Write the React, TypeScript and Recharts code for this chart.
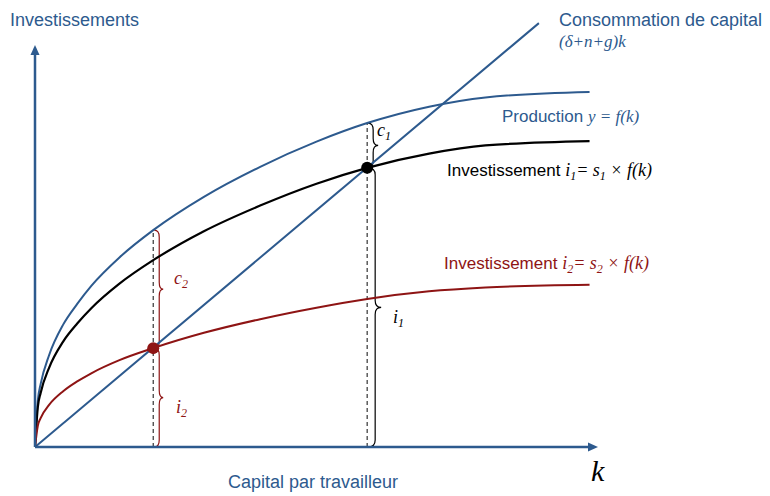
import React from "react";
import {
  ComposedChart,
  Line,
  XAxis,
  YAxis,
  ReferenceLine,
  ReferenceDot,
} from "recharts";

// values (k on a 0..10 scale, output on a 0..8 scale)
const kGrid = [0, 0.05, 0.1, 0.25, 0.5, 0.75, 1, 1.5, 2.1, 3, 4, 5, 5.9, 7, 8, 9.85];
const production = [0, 0.85, 1.15, 1.68, 2.24, 2.62, 2.95, 3.47, 3.97, 4.58, 5.13, 5.59, 5.93, 6.23, 6.4, 6.5];
const investment1 = [0, 0.73, 0.99, 1.45, 1.93, 2.26, 2.54, 2.99, 3.42, 3.95, 4.42, 4.82, 5.11, 5.37, 5.52, 5.6];
const investment2 = [0, 0.39, 0.53, 0.77, 1.02, 1.2, 1.35, 1.59, 1.81, 2.09, 2.34, 2.55, 2.71, 2.85, 2.92, 2.97];
const breakEvenK = [0, 8.95];
const breakEvenY = [0, 7.76];

// steady states
const k1 = 5.9;
const i1 = 5.11;
const y1 = 5.93;
const k2 = 2.1;
const i2 = 1.81;
const y2 = 3.97;

const xMax = 10;
const yMax = 8;
const yAxisTop = 7.36;

const BLUE = "#2D5A8E";
const RED = "#8E1414";
const SANS = "'Liberation Sans', Arial, sans-serif";
const SERIF = "'Liberation Serif', 'Times New Roman', serif";

const curves = kGrid.map((k, i) => ({
  k,
  y: production[i],
  s1: investment1[i],
  s2: investment2[i],
}));
const breakEven = breakEvenK.map((k, i) => ({ k, d: breakEvenY[i] }));

function arrow(p: any) {
  const { x1, y1, x2, y2 } = p;
  const dx = x2 - x1;
  const dy = y2 - y1;
  const len = Math.hypot(dx, dy) || 1;
  const ux = dx / len;
  const uy = dy / len;
  const bx = x2 - ux * 10;
  const by = y2 - uy * 10;
  return (
    <g>
      <line x1={x1} y1={y1} x2={x2 - ux * 8} y2={y2 - uy * 8} stroke={BLUE} strokeWidth={2.5} />
      <polygon
        points={`${x2},${y2} ${bx - uy * 4.5},${by + ux * 4.5} ${bx + uy * 4.5},${by - ux * 4.5}`}
        fill={BLUE}
      />
    </g>
  );
}

function brace(color: string, a: number, v: number, t: number) {
  return (p: any) => {
    const x = p.x1;
    const top = Math.min(p.y1, p.y2);
    const bot = Math.max(p.y1, p.y2);
    const mid = (top + bot) / 2;
    const r = Math.min(7, (bot - top) / 4);
    const d = `M${x + a},${top} Q${x + v},${top} ${x + v},${top + r} L${x + v},${mid - r} Q${x + v},${mid} ${x + t},${mid} Q${x + v},${mid} ${x + v},${mid + r} L${x + v},${bot - r} Q${x + v},${bot} ${x + a},${bot}`;
    return <path d={d} fill="none" stroke={color} strokeWidth={1.2} />;
  };
}

function Sub({ children }: { children: React.ReactNode }) {
  return (
    <tspan fontSize={12} dy={4}>
      {children}
    </tspan>
  );
}

function Labels() {
  return (
    <svg
      width={770}
      height={496}
      style={{ position: "absolute", left: 0, top: 0, pointerEvents: "none" }}
    >
      <text x={10} y={26} fontFamily={SANS} fontSize={18} fill={BLUE}>
        Investissements
      </text>
      <text x={559} y={26} fontFamily={SANS} fontSize={18} fill={BLUE}>
        Consommation de capital
      </text>
      <text x={559} y={47} fontFamily={SERIF} fontStyle="italic" fontSize={17} fill={BLUE}>
        (δ+n+g)k
      </text>
      <text x={502} y={122} fontFamily={SANS} fontSize={17} fill={BLUE}>
        Production{" "}
        <tspan fontFamily={SERIF} fontStyle="italic" fontSize={17}>
          y = f(k)
        </tspan>
      </text>
      <text x={447} y={176} fontFamily={SANS} fontSize={17} fill="#000">
        Investissement{" "}
        <tspan fontFamily={SERIF} fontStyle="italic" fontSize={18}>
          i
          <Sub>1</Sub>
          <tspan dy={-4}>= s</tspan>
          <Sub>1</Sub>
          <tspan dy={-4}> × f(k)</tspan>
        </tspan>
      </text>
      <text x={444} y={269} fontFamily={SANS} fontSize={17} fill={RED}>
        Investissement{" "}
        <tspan fontFamily={SERIF} fontStyle="italic" fontSize={18}>
          i
          <Sub>2</Sub>
          <tspan dy={-4}>= s</tspan>
          <Sub>2</Sub>
          <tspan dy={-4}> × f(k)</tspan>
        </tspan>
      </text>
      <text x={377} y={136} fontFamily={SERIF} fontStyle="italic" fontSize={18} fill="#000">
        c<Sub>1</Sub>
      </text>
      <text x={174} y={284} fontFamily={SERIF} fontStyle="italic" fontSize={18} fill={RED}>
        c<Sub>2</Sub>
      </text>
      <text x={176} y={413} fontFamily={SERIF} fontStyle="italic" fontSize={18} fill={RED}>
        i<Sub>2</Sub>
      </text>
      <text x={393} y={323} fontFamily={SERIF} fontStyle="italic" fontSize={18} fill="#000">
        i<Sub>1</Sub>
      </text>
      <text x={228} y={488} fontFamily={SANS} fontSize={18} fill={BLUE}>
        Capital par travailleur
      </text>
      <text x={591} y={481} fontFamily={SERIF} fontStyle="italic" fontSize={30} fill="#000">
        k
      </text>
    </svg>
  );
}

export default function App() {
  return (
    <div style={{ position: "absolute", left: 0, top: 0, width: 770, height: 496, background: "#fff" }}>
      <ComposedChart
        width={770}
        height={496}
        margin={{ top: 10, right: 172, bottom: 49, left: 35 }}
      >
        <XAxis type="number" dataKey="k" domain={[0, xMax]} allowDataOverflow hide />
        <YAxis type="number" domain={[0, yMax]} allowDataOverflow hide />

        {/* dashed guides */}
        <ReferenceLine
          segment={[{ x: k2, y: 0 }, { x: k2, y: y2 }]}
          stroke="#333"
          strokeWidth={1.2}
          strokeDasharray="4 3"
        />
        <ReferenceLine
          segment={[{ x: k1, y: 0 }, { x: k1, y: y1 }]}
          stroke="#333"
          strokeWidth={1.2}
          strokeDasharray="4 3"
        />

        {/* braces */}
        <ReferenceLine segment={[{ x: k2, y: y2 }, { x: k2, y: i2 }]} shape={brace(RED, 1, 6, 10)} />
        <ReferenceLine segment={[{ x: k2, y: i2 }, { x: k2, y: 0 }]} shape={brace(RED, 1, 6, 10)} />
        <ReferenceLine segment={[{ x: k1, y: y1 }, { x: k1, y: i1 }]} shape={brace("#000", 1, 6, 11)} />
        <ReferenceLine segment={[{ x: k1, y: i1 }, { x: k1, y: 0 }]} shape={brace("#000", 1, 8, 14)} />

        <Line
          data={breakEven}
          dataKey="d"
          type="linear"
          stroke={BLUE}
          strokeWidth={2}
          dot={false}
          isAnimationActive={false}
        />
        <Line
          data={curves}
          dataKey="y"
          type="monotone"
          stroke={BLUE}
          strokeWidth={2}
          dot={false}
          isAnimationActive={false}
        />
        <Line
          data={curves}
          dataKey="s1"
          type="monotone"
          stroke="#000"
          strokeWidth={2.2}
          dot={false}
          isAnimationActive={false}
        />
        <Line
          data={curves}
          dataKey="s2"
          type="monotone"
          stroke={RED}
          strokeWidth={2}
          dot={false}
          isAnimationActive={false}
        />

        {/* axes with arrows */}
        <ReferenceLine segment={[{ x: 0, y: 0 }, { x: xMax, y: 0 }]} shape={arrow} />
        <ReferenceLine segment={[{ x: 0, y: 0 }, { x: 0, y: yAxisTop }]} shape={arrow} />

        <ReferenceDot x={k1} y={i1} r={6} fill="#000" stroke="none" />
        <ReferenceDot x={k2} y={i2} r={6} fill={RED} stroke="none" />
      </ComposedChart>
      <Labels />
    </div>
  );
}
